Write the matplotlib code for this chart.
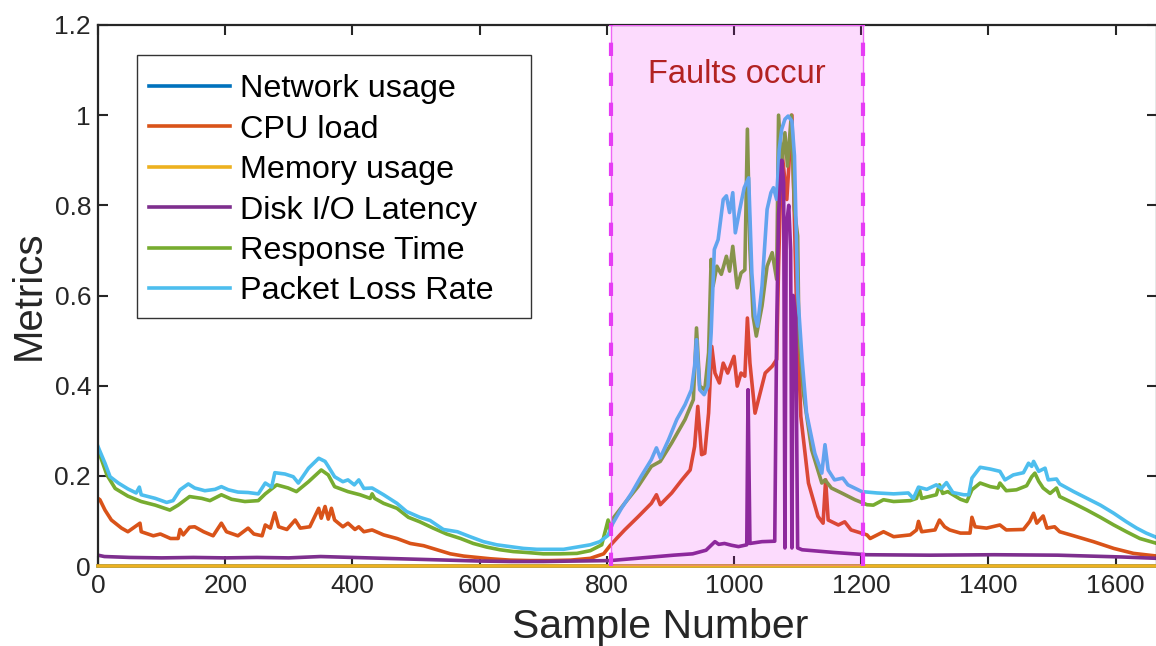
import matplotlib
matplotlib.use("Agg")
import matplotlib.pyplot as plt
from matplotlib.patches import Rectangle

plt.rcParams['font.family'] = ['Liberation Sans', 'DejaVu Sans']

# ---------------- data ----------------
series_names = ["Network usage", "CPU load", "Memory usage",
                "Disk I/O Latency", "Response Time", "Packet Loss Rate"]
series_colors = ["#0072BD", "#D95319", "#EDB120", "#7E2F8E", "#77AC30", "#4DBEEE"]

net_x = [0, 1665]
net_y = [0.0, 0.0]

mem_x = [0, 1665]
mem_y = [0.0, 0.0]

cpu_x = [0, 3, 11, 21, 37, 47, 55, 66, 68, 87, 98, 114, 126, 129, 134, 144, 152, 166, 181, 194,
         202, 220, 236, 245, 258, 263, 271, 278, 284, 297, 310, 318, 333, 347, 351, 357, 362, 367,
         372, 385, 393, 404, 410, 418, 431, 449, 470, 491, 512, 533, 554, 575, 596, 617, 648, 679,
         710, 743, 774, 795, 805, 816, 828, 849, 870, 878, 884, 902, 918, 931, 938, 943, 949, 954,
         960, 965, 970, 977, 983, 990, 1000, 1005, 1011, 1017, 1021, 1025, 1033, 1041, 1049, 1060,
         1067, 1070, 1075, 1083, 1091, 1098, 1105, 1117, 1132, 1140, 1144, 1148, 1164, 1174, 1184,
         1209, 1214, 1235, 1251, 1277, 1287, 1290, 1295, 1316, 1323, 1331, 1339, 1356, 1371, 1374,
         1379, 1397, 1418, 1428, 1455, 1465, 1471, 1476, 1486, 1492, 1504, 1512, 1534, 1565, 1597,
         1628, 1665]
cpu_y = [0.150, 0.147, 0.124, 0.102, 0.084, 0.076, 0.084, 0.095, 0.076, 0.067, 0.071, 0.061, 0.061,
         0.081, 0.069, 0.086, 0.087, 0.076, 0.067, 0.095, 0.076, 0.067, 0.084, 0.071, 0.067, 0.091,
         0.084, 0.118, 0.087, 0.081, 0.102, 0.084, 0.087, 0.128, 0.106, 0.132, 0.104, 0.128, 0.102,
         0.087, 0.095, 0.081, 0.087, 0.076, 0.080, 0.069, 0.061, 0.050, 0.045, 0.036, 0.027, 0.022,
         0.019, 0.016, 0.013, 0.012, 0.012, 0.013, 0.017, 0.027, 0.045, 0.062, 0.080, 0.109, 0.139,
         0.158, 0.136, 0.162, 0.191, 0.213, 0.265, 0.354, 0.247, 0.250, 0.339, 0.487, 0.428, 0.406,
         0.450, 0.428, 0.465, 0.399, 0.428, 0.421, 0.550, 0.450, 0.339, 0.384, 0.428, 0.443, 0.458,
         0.665, 0.924, 0.813, 1.000, 0.591, 0.332, 0.184, 0.110, 0.095, 0.191, 0.102, 0.091, 0.098,
         0.080, 0.069, 0.061, 0.076, 0.065, 0.069, 0.080, 0.099, 0.076, 0.080, 0.102, 0.087, 0.080,
         0.073, 0.073, 0.108, 0.087, 0.084, 0.091, 0.080, 0.081, 0.099, 0.117, 0.095, 0.111, 0.084,
         0.087, 0.076, 0.067, 0.054, 0.039, 0.028, 0.022]

disk_x = [0, 10, 50, 100, 150, 200, 250, 300, 350, 400, 450, 500, 550, 600, 650, 700, 750, 805,
          855, 905, 935, 956, 970, 976, 985, 996, 1007, 1020, 1022, 1025, 1044, 1064, 1067, 1070,
          1075, 1078, 1080, 1082, 1086, 1089, 1091, 1093, 1097, 1100, 1107, 1157, 1208, 1308, 1409,
          1509, 1610, 1665]
disk_y = [0.024, 0.021, 0.019, 0.018, 0.019, 0.018, 0.019, 0.018, 0.021, 0.019, 0.017, 0.015, 0.013,
          0.011, 0.010, 0.010, 0.011, 0.012, 0.018, 0.024, 0.027, 0.035, 0.054, 0.048, 0.050, 0.046,
          0.043, 0.047, 0.391, 0.050, 0.054, 0.055, 0.520, 0.780, 0.900, 0.850, 0.040, 0.750, 0.800,
          0.700, 0.040, 0.600, 0.550, 0.040, 0.036, 0.030, 0.025, 0.024, 0.025, 0.024, 0.020, 0.017]

resp_x = [0, 2, 14, 27, 47, 68, 90, 113, 126, 144, 163, 176, 194, 210, 231, 252, 263, 281, 299, 312,
          331, 351, 362, 372, 393, 412, 428, 431, 435, 449, 470, 488, 506, 527, 548, 570, 590, 611,
          632, 653, 674, 700, 727, 753, 774, 792, 802, 805, 810, 828, 849, 870, 884, 902, 923, 936,
          941, 946, 954, 960, 964, 967, 973, 980, 988, 993, 998, 1005, 1011, 1017, 1021, 1025, 1030,
          1035, 1044, 1052, 1060, 1067, 1070, 1075, 1080, 1084, 1090, 1095, 1100, 1102, 1109, 1122,
          1138, 1143, 1153, 1169, 1190, 1209, 1219, 1235, 1251, 1277, 1287, 1291, 1295, 1318, 1323,
          1328, 1336, 1356, 1366, 1374, 1387, 1403, 1415, 1418, 1428, 1444, 1460, 1468, 1473, 1479,
          1486, 1497, 1507, 1512, 1534, 1555, 1576, 1597, 1617, 1638, 1665]
resp_y = [0.255, 0.250, 0.202, 0.172, 0.155, 0.143, 0.135, 0.124, 0.135, 0.154, 0.150, 0.145, 0.158,
          0.148, 0.143, 0.145, 0.160, 0.180, 0.173, 0.165, 0.187, 0.213, 0.202, 0.176, 0.165, 0.158,
          0.150, 0.160, 0.150, 0.139, 0.128, 0.108, 0.098, 0.084, 0.071, 0.061, 0.050, 0.042, 0.036,
          0.032, 0.030, 0.027, 0.027, 0.028, 0.034, 0.047, 0.102, 0.075, 0.106, 0.139, 0.176, 0.221,
          0.232, 0.273, 0.325, 0.369, 0.528, 0.399, 0.391, 0.473, 0.680, 0.621, 0.665, 0.647, 0.687,
          0.654, 0.709, 0.617, 0.650, 0.657, 0.969, 0.702, 0.554, 0.510, 0.577, 0.665, 0.695, 0.636,
          1.000, 0.887, 0.961, 0.887, 1.000, 0.791, 0.732, 0.517, 0.384, 0.258, 0.184, 0.191, 0.173,
          0.162, 0.147, 0.136, 0.135, 0.147, 0.143, 0.145, 0.150, 0.173, 0.150, 0.158, 0.180, 0.161,
          0.165, 0.148, 0.143, 0.169, 0.184, 0.176, 0.173, 0.184, 0.167, 0.169, 0.178, 0.198, 0.206,
          0.188, 0.173, 0.161, 0.173, 0.154, 0.139, 0.124, 0.108, 0.091, 0.076, 0.061, 0.050]

pkt_x = [0, 2, 11, 19, 32, 47, 60, 65, 68, 90, 108, 118, 129, 142, 152, 168, 184, 194, 205, 220,
         236, 252, 263, 273, 278, 294, 307, 315, 331, 347, 357, 362, 372, 385, 393, 403, 410, 418,
         431, 449, 470, 485, 506, 522, 543, 565, 585, 606, 627, 648, 669, 690, 710, 732, 753, 774,
         789, 802, 808, 823, 839, 854, 870, 878, 884, 897, 910, 923, 933, 938, 941, 946, 953, 959,
         964, 969, 975, 983, 988, 993, 998, 1002, 1009, 1016, 1023, 1028, 1033, 1037, 1044, 1052,
         1058, 1062, 1067, 1071, 1075, 1080, 1085, 1091, 1095, 1100, 1107, 1114, 1127, 1138, 1143,
         1148, 1158, 1171, 1179, 1201, 1225, 1251, 1274, 1282, 1290, 1303, 1318, 1326, 1334, 1344,
         1361, 1369, 1374, 1387, 1403, 1418, 1426, 1439, 1455, 1463, 1468, 1471, 1479, 1489, 1494,
         1507, 1512, 1534, 1555, 1576, 1597, 1617, 1633, 1648, 1665]
pkt_y = [0.265, 0.258, 0.228, 0.198, 0.184, 0.171, 0.162, 0.175, 0.158, 0.150, 0.141, 0.145, 0.169,
         0.182, 0.173, 0.167, 0.170, 0.176, 0.169, 0.164, 0.163, 0.160, 0.184, 0.175, 0.207, 0.204,
         0.198, 0.184, 0.217, 0.239, 0.232, 0.221, 0.198, 0.187, 0.191, 0.180, 0.191, 0.172, 0.173,
         0.158, 0.139, 0.121, 0.108, 0.101, 0.081, 0.076, 0.065, 0.054, 0.047, 0.043, 0.039, 0.037,
         0.037, 0.037, 0.042, 0.047, 0.054, 0.068, 0.091, 0.128, 0.162, 0.199, 0.236, 0.262, 0.240,
         0.280, 0.325, 0.358, 0.391, 0.444, 0.502, 0.391, 0.380, 0.399, 0.517, 0.702, 0.724, 0.813,
         0.821, 0.784, 0.828, 0.739, 0.791, 0.839, 0.861, 0.650, 0.554, 0.532, 0.621, 0.791, 0.828,
         0.839, 0.813, 0.924, 0.969, 0.991, 0.998, 0.987, 0.910, 0.606, 0.458, 0.339, 0.250, 0.206,
         0.269, 0.213, 0.191, 0.195, 0.180, 0.165, 0.162, 0.160, 0.162, 0.150, 0.175, 0.170, 0.180,
         0.172, 0.185, 0.163, 0.158, 0.158, 0.195, 0.219, 0.215, 0.210, 0.191, 0.202, 0.207, 0.228,
         0.221, 0.232, 0.210, 0.217, 0.191, 0.193, 0.182, 0.165, 0.150, 0.135, 0.117, 0.098, 0.084,
         0.073, 0.063]

fault_start = 807
fault_end = 1202
fault_label = "Faults occur"

x_ticks = [0, 200, 400, 600, 800, 1000, 1200, 1400, 1600]
y_ticks = [0, 0.2, 0.4, 0.6, 0.8, 1.0, 1.2]
y_tick_labels = ["0", "0.2", "0.4", "0.6", "0.8", "1", "1.2"]
x_label = "Sample Number"
y_label = "Metrics"

# ---------------- figure ----------------
W, H = 1156, 646
fig = plt.figure(figsize=(W / 100, H / 100), dpi=100)
ax = fig.add_axes([98 / W, 80 / H, 1059 / W, 541 / H])

lw = 2.6
text_c = "#262626"
ax.plot(net_x, net_y, color=series_colors[0], lw=lw, label=series_names[0], zorder=2.0, clip_on=False)
ax.plot(cpu_x, cpu_y, color=series_colors[1], lw=lw, label=series_names[1], zorder=2.1)
ax.plot(mem_x, mem_y, color=series_colors[2], lw=lw, label=series_names[2], zorder=2.6, clip_on=False)
ax.plot(resp_x, resp_y, color=series_colors[4], lw=lw, label=series_names[4], zorder=2.2)
ax.plot(pkt_x, pkt_y, color=series_colors[5], lw=lw, label=series_names[5], zorder=2.3)
ax.plot(disk_x, disk_y, color=series_colors[3], lw=lw, label=series_names[3], zorder=2.4)

# fault region (translucent, drawn above the lines)
ax.add_patch(Rectangle((fault_start, 0), fault_end - fault_start, 1.2,
                       facecolor=(0.92, 0.0, 0.95), alpha=0.14, edgecolor="none", zorder=3))
ax.add_patch(Rectangle((fault_start, 0), fault_end - fault_start, 1.2,
                       facecolor="none", edgecolor="#EE66F5", lw=1.0, zorder=3.1))
for xv in (fault_start, fault_end):
    ax.plot([xv, xv], [0, 1.2], color="#E63CF5", lw=3.0, ls=(0, (3.2, 4.0)), zorder=3.2, clip_on=False)

ax.text((fault_start + fault_end) / 2, 1.09, fault_label, color="#B22222", fontsize=23.5,
        ha="center", va="center", zorder=5)

ax.set_xlim(0, 1665)
ax.set_ylim(0, 1.2)
ax.set_xticks(x_ticks)
ax.set_xticklabels([str(v) for v in x_ticks])
ax.set_yticks(y_ticks)
ax.set_yticklabels(y_tick_labels)
ax.tick_params(direction="in", length=7, width=1.5, top=True, right=True,
               labelsize=19, colors=text_c, pad=6)
ax.tick_params(axis="y", pad=5)
for sp in ax.spines.values():
    sp.set_linewidth(1.6)
    sp.set_color(text_c)

ax.set_xlabel(x_label, fontsize=29.5, color=text_c)
ax.xaxis.set_label_coords(0.531, -0.078)
ax.set_ylabel(y_label, fontsize=29, color=text_c, labelpad=5)

# legend (frame drawn separately to match the reference box)
handles, labels = ax.get_legend_handles_labels()
order = [labels.index(n) for n in series_names]
leg = ax.legend([handles[i] for i in order], [labels[i] for i in order],
                loc="upper left", bbox_to_anchor=(0.0302, 0.9445), borderaxespad=0,
                fontsize=23.3, frameon=False, handlelength=2.5, handletextpad=0.3,
                labelspacing=0.32, borderpad=0.6)
leg.set_zorder(6)
ax.add_patch(Rectangle((0.0368, 0.4584), 0.4089 - 0.0368, 0.9445 - 0.4584, transform=ax.transAxes,
                       facecolor="white", edgecolor="#333333", lw=1.0, zorder=5.5))

fig.savefig("out.png", dpi=100)
